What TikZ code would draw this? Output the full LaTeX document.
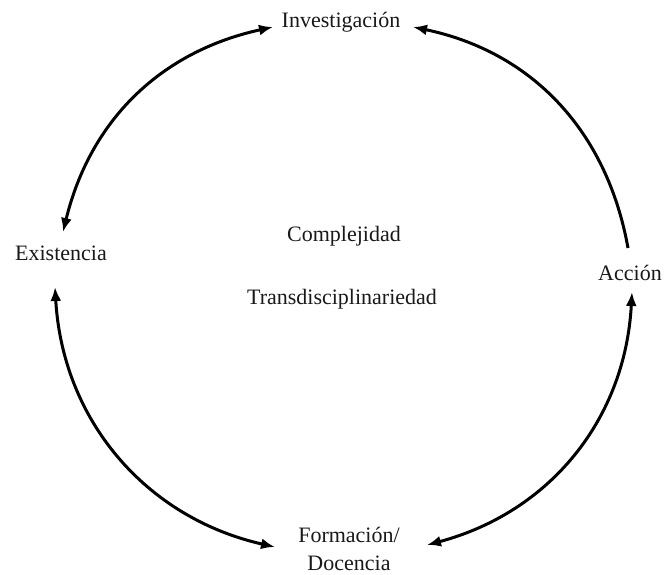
\documentclass[tikz,border=0pt]{standalone}
\usepackage{fontspec}
\setmainfont{Liberation Serif}
\usetikzlibrary{arrows.meta}
\begin{document}
\begin{tikzpicture}[x=1pt,y=-1pt,
  lbl/.style={font=\fontsize{22}{28}\selectfont, inner sep=0pt, align=center, text=black!90},
  link/.style={line width=3pt, black},
  tip/.style={-{Latex[length=14pt,width=11pt]}},
  tips/.style={{Latex[length=14pt,width=11pt]}-{Latex[length=14pt,width=11pt]}}]
\useasboundingbox (0,0) rectangle (664,575);
\fill[white] (0,0) rectangle (664,575);
% labels
\node[lbl] (inv) at (341,22) {Investigación};
\node[lbl] (exi) at (61,253) {Existencia};
\node[lbl] (acc) at (630,273) {Acción};
\node[lbl] (form) at (349,549) {Formación/\\Docencia};
\node[lbl] (comp) at (344,236) {Complejidad};
\node[lbl] (trans) at (342,299) {Transdisciplinariedad};
% connector ends
\coordinate (inv-w) at (273,27);
\coordinate (inv-e) at (413,27);
\coordinate (exi-n) at (63,232);
\coordinate (exi-s) at (55,287);
\coordinate (acc-n) at (628,248);
\coordinate (acc-s) at (632,292);
\coordinate (form-w) at (275,547);
\coordinate (form-e) at (427,545);
% connectors
\draw[link,tips] (inv-w) to[bend right=32] (exi-n);
\draw[link,tip] (acc-n) to[bend right=34] (inv-e);
\draw[link,tips] (exi-s) to[bend right=37] (form-w);
\draw[link,tips] (form-e) to[bend right=36] (acc-s);
\end{tikzpicture}
\end{document}
